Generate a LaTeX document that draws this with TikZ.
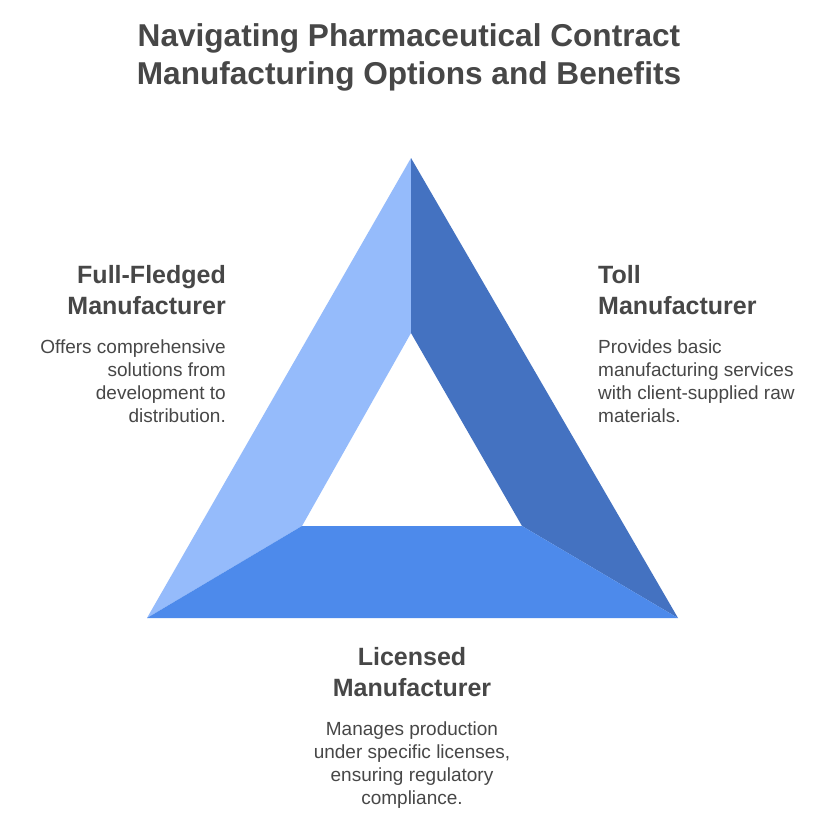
\documentclass[tikz,border=0pt]{standalone}
\usepackage{fontspec}
\setmainfont{Liberation Sans}
\definecolor{txt}{HTML}{474747}
\definecolor{lightface}{HTML}{95BBFB}
\definecolor{darkface}{HTML}{4472C1}
\definecolor{midface}{HTML}{4D8AEB}
\begin{document}
\begin{tikzpicture}[x=1pt,y=-1pt,
  titletext/.style={font=\fontsize{31.6}{38}\selectfont\bfseries,text=txt,inner sep=0pt,anchor=base},
  headtext/.style={font=\fontsize{25}{31}\selectfont\bfseries,text=txt,inner sep=0pt},
  desctext/.style={font=\fontsize{19}{23}\selectfont,text=txt,inner sep=0pt}]
\useasboundingbox[fill=white] (0,0) rectangle (840,840);
% outer and inner triangle corners
\coordinate (A) at (411,158);
\coordinate (BL) at (147,618);
\coordinate (BR) at (678,618);
\coordinate (a) at (411,333);
\coordinate (bl) at (302,526);
\coordinate (br) at (522,526);
\fill[lightface] (A) -- (a) -- (bl) -- (BL) -- cycle;
\fill[darkface] (A) -- (BR) -- (br) -- (a) -- cycle;
\fill[midface] (BL) -- (BR) -- (br) -- (bl) -- cycle;
% title
\node[titletext] (t1) at (409,47) {Navigating Pharmaceutical Contract};
\node[titletext] (t2) at (409,85) {Manufacturing Options and Benefits};
% left
\node[headtext,anchor=base east] (l1) at (226,283) {Full-Fledged};
\node[headtext,anchor=base east] (l2) at (226,314) {Manufacturer};
\node[desctext,anchor=base east] (l3) at (226,353) {Offers comprehensive};
\node[desctext,anchor=base east] (l4) at (226,376) {solutions from};
\node[desctext,anchor=base east] (l5) at (226,399) {development to};
\node[desctext,anchor=base east] (l6) at (226,422) {distribution.};
% right
\node[headtext,anchor=base west] (r1) at (598,283) {Toll};
\node[headtext,anchor=base west] (r2) at (598,314) {Manufacturer};
\node[desctext,anchor=base west] (r3) at (598,353) {Provides basic};
\node[desctext,anchor=base west] (r4) at (598,376) {manufacturing services};
\node[desctext,anchor=base west] (r5) at (598,399) {with client-supplied raw};
\node[desctext,anchor=base west] (r6) at (598,422) {materials.};
% bottom
\node[headtext,anchor=base] (b1) at (412,665) {Licensed};
\node[headtext,anchor=base] (b2) at (412,696) {Manufacturer};
\node[desctext,anchor=base] (b3) at (412,735) {Manages production};
\node[desctext,anchor=base] (b4) at (412,758) {under specific licenses,};
\node[desctext,anchor=base] (b5) at (412,781) {ensuring regulatory};
\node[desctext,anchor=base] (b6) at (412,804) {compliance.};
\end{tikzpicture}
\end{document}
